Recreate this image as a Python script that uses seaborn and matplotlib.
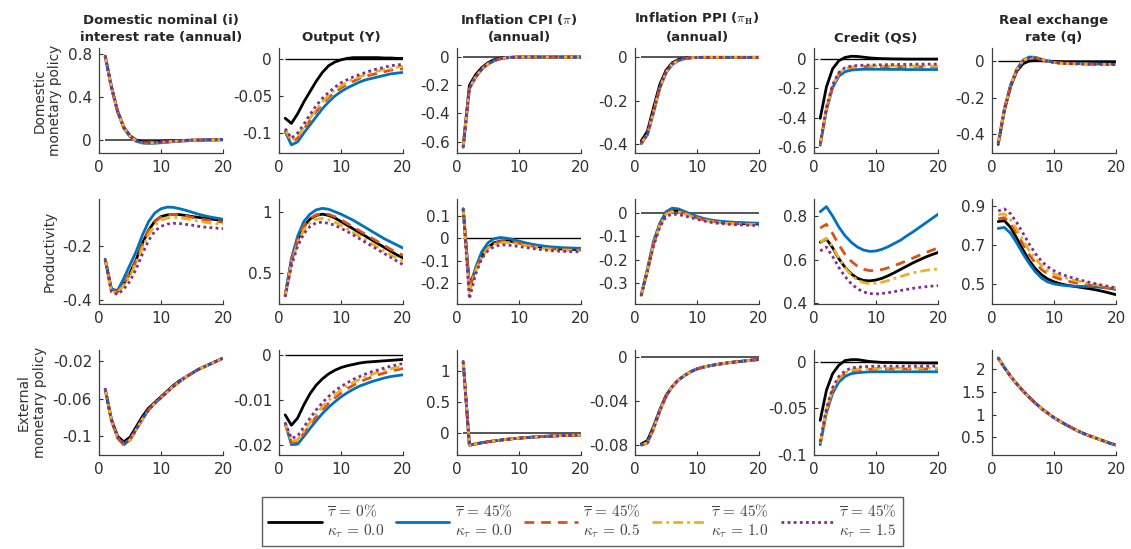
import matplotlib
matplotlib.use('Agg')
import matplotlib.pyplot as plt
import seaborn as sns
from matplotlib.lines import Line2D

# impulse responses, 20 quarters. each panel: [black, blue, orange, yellow, purple]
periods = list(range(1, 21))

# ---- row 1: domestic monetary policy shock
rate_dom = [
    [0.78, 0.50, 0.27, 0.12, 0.04, 0.0, -0.015, -0.018, -0.016, -0.013, -0.01, -0.007, -0.005, -0.003, -0.001, 0.0, 0.001, 0.002, 0.002, 0.003],
    [0.78, 0.49, 0.26, 0.11, 0.03, -0.012, -0.028, -0.032, -0.03, -0.026, -0.021, -0.016, -0.012, -0.008, -0.005, -0.003, -0.001, 0.0, 0.001, 0.002],
    [0.78, 0.49, 0.265, 0.115, 0.033, -0.009, -0.025, -0.028, -0.026, -0.022, -0.017, -0.013, -0.009, -0.006, -0.004, -0.002, 0.0, 0.001, 0.002, 0.002],
    [0.78, 0.49, 0.265, 0.115, 0.035, -0.007, -0.023, -0.026, -0.024, -0.02, -0.016, -0.012, -0.008, -0.005, -0.003, -0.001, 0.0, 0.001, 0.002, 0.003],
    [0.78, 0.49, 0.265, 0.115, 0.036, -0.006, -0.021, -0.024, -0.022, -0.018, -0.014, -0.01, -0.007, -0.004, -0.002, 0.0, 0.001, 0.002, 0.003, 0.003],
]
output_dom = [
    [-0.08, -0.087, -0.074, -0.058, -0.044, -0.03, -0.018, -0.009, -0.004, -0.001, 0.001, 0.002, 0.002, 0.002, 0.002, 0.002, 0.0015, 0.0015, 0.001, 0.001],
    [-0.098, -0.116, -0.112, -0.1, -0.089, -0.078, -0.067, -0.058, -0.05, -0.044, -0.039, -0.035, -0.031, -0.028, -0.026, -0.024, -0.022, -0.02, -0.019, -0.018],
    [-0.096, -0.112, -0.107, -0.095, -0.083, -0.071, -0.061, -0.052, -0.045, -0.039, -0.034, -0.03, -0.026, -0.023, -0.021, -0.019, -0.017, -0.015, -0.014, -0.013],
    [-0.095, -0.11, -0.105, -0.092, -0.08, -0.068, -0.058, -0.049, -0.042, -0.036, -0.031, -0.027, -0.024, -0.021, -0.018, -0.016, -0.014, -0.013, -0.011, -0.01],
    [-0.094, -0.107, -0.1, -0.088, -0.075, -0.063, -0.053, -0.045, -0.038, -0.032, -0.028, -0.024, -0.021, -0.018, -0.015, -0.013, -0.011, -0.009, -0.008, -0.007],
]
cpi_dom = [
    [-0.63, -0.2, -0.125, -0.075, -0.04, -0.018, -0.008, -0.003, -0.001, 0.0, 0.0, 0.0, 0.0, 0.0, 0.0, 0.0, 0.0, 0.0, 0.0, 0.0],
    [-0.64, -0.225, -0.145, -0.088, -0.05, -0.027, -0.013, -0.006, -0.002, -0.001, 0.0, 0.0, 0.0, 0.0, 0.0, 0.0, 0.0, 0.0, 0.0, 0.0],
    [-0.64, -0.222, -0.142, -0.086, -0.049, -0.026, -0.012, -0.005, -0.002, -0.001, 0.0, 0.0, 0.0, 0.0, 0.0, 0.0, 0.0, 0.0, 0.0, 0.0],
    [-0.64, -0.22, -0.14, -0.085, -0.048, -0.025, -0.012, -0.005, -0.002, -0.001, 0.0, 0.0, 0.0, 0.0, 0.0, 0.0, 0.0, 0.0, 0.0, 0.0],
    [-0.64, -0.218, -0.138, -0.084, -0.047, -0.024, -0.011, -0.005, -0.002, -0.001, 0.0, 0.0, 0.0, 0.0, 0.0, 0.0, 0.0, 0.0, 0.0, 0.0],
]
ppi_dom = [
    [-0.385, -0.34, -0.23, -0.125, -0.06, -0.025, -0.01, -0.004, -0.001, 0.0, 0.0, 0.0, 0.0, 0.0, 0.0, 0.0, 0.0, 0.0, 0.0, 0.0],
    [-0.397, -0.357, -0.252, -0.142, -0.071, -0.033, -0.015, -0.006, -0.002, -0.001, 0.0, 0.0, 0.0, 0.0, 0.0, 0.0, 0.0, 0.0, 0.0, 0.0],
    [-0.397, -0.355, -0.25, -0.14, -0.07, -0.032, -0.014, -0.006, -0.002, -0.001, 0.0, 0.0, 0.0, 0.0, 0.0, 0.0, 0.0, 0.0, 0.0, 0.0],
    [-0.396, -0.354, -0.249, -0.139, -0.069, -0.031, -0.014, -0.006, -0.002, -0.001, 0.0, 0.0, 0.0, 0.0, 0.0, 0.0, 0.0, 0.0, 0.0, 0.0],
    [-0.396, -0.352, -0.247, -0.137, -0.068, -0.03, -0.013, -0.005, -0.002, -0.001, 0.0, 0.0, 0.0, 0.0, 0.0, 0.0, 0.0, 0.0, 0.0, 0.0],
]
credit_dom = [
    [-0.405, -0.19, -0.065, -0.01, 0.013, 0.021, 0.02, 0.015, 0.01, 0.007, 0.005, 0.004, 0.003, 0.003, 0.002, 0.002, 0.002, 0.002, 0.002, 0.002],
    [-0.59, -0.35, -0.195, -0.115, -0.085, -0.074, -0.07, -0.068, -0.068, -0.068, -0.068, -0.069, -0.069, -0.069, -0.07, -0.07, -0.07, -0.07, -0.07, -0.07],
    [-0.585, -0.34, -0.185, -0.1, -0.068, -0.056, -0.052, -0.05, -0.05, -0.05, -0.05, -0.05, -0.05, -0.05, -0.05, -0.05, -0.05, -0.05, -0.05, -0.05],
    [-0.583, -0.337, -0.182, -0.097, -0.064, -0.052, -0.048, -0.046, -0.046, -0.046, -0.046, -0.046, -0.046, -0.046, -0.046, -0.046, -0.046, -0.046, -0.046, -0.046],
    [-0.58, -0.33, -0.175, -0.09, -0.058, -0.046, -0.042, -0.04, -0.039, -0.038, -0.037, -0.036, -0.035, -0.035, -0.034, -0.034, -0.033, -0.033, -0.033, -0.033],
]
rer_dom = [
    [-0.455, -0.27, -0.14, -0.055, -0.015, 0.0, 0.003, 0.002, 0.0, -0.002, -0.003, -0.004, -0.004, -0.004, -0.004, -0.004, -0.004, -0.004, -0.004, -0.004],
    [-0.45, -0.26, -0.13, -0.045, 0.005, 0.022, 0.02, 0.01, 0.0, -0.007, -0.01, -0.012, -0.013, -0.014, -0.015, -0.016, -0.016, -0.017, -0.017, -0.018],
    [-0.45, -0.262, -0.132, -0.047, 0.003, 0.019, 0.018, 0.008, -0.001, -0.008, -0.011, -0.013, -0.014, -0.015, -0.016, -0.017, -0.017, -0.018, -0.018, -0.019],
    [-0.45, -0.263, -0.133, -0.048, 0.002, 0.018, 0.017, 0.008, -0.001, -0.008, -0.012, -0.014, -0.015, -0.016, -0.017, -0.018, -0.018, -0.019, -0.019, -0.02],
    [-0.45, -0.265, -0.135, -0.05, 0.0, 0.016, 0.016, 0.007, -0.002, -0.008, -0.012, -0.014, -0.015, -0.016, -0.017, -0.018, -0.018, -0.019, -0.019, -0.02],
]

# ---- row 2: productivity shock
rate_prod = [
    [-0.25, -0.36, -0.37, -0.34, -0.3, -0.25, -0.19, -0.142, -0.108, -0.091, -0.085, -0.083, -0.084, -0.087, -0.091, -0.094, -0.097, -0.1, -0.103, -0.105],
    [-0.25, -0.36, -0.365, -0.32, -0.27, -0.22, -0.16, -0.11, -0.078, -0.062, -0.056, -0.057, -0.062, -0.068, -0.075, -0.082, -0.088, -0.093, -0.097, -0.101],
    [-0.25, -0.365, -0.37, -0.34, -0.3, -0.255, -0.195, -0.145, -0.11, -0.092, -0.085, -0.083, -0.085, -0.089, -0.094, -0.099, -0.103, -0.106, -0.109, -0.112],
    [-0.25, -0.37, -0.375, -0.345, -0.31, -0.264, -0.207, -0.158, -0.123, -0.105, -0.097, -0.094, -0.095, -0.099, -0.103, -0.108, -0.112, -0.115, -0.118, -0.12],
    [-0.25, -0.37, -0.38, -0.36, -0.33, -0.285, -0.23, -0.18, -0.145, -0.127, -0.119, -0.116, -0.117, -0.12, -0.123, -0.127, -0.13, -0.132, -0.134, -0.136],
]
output_prod = [
    [0.32, 0.6, 0.77, 0.88, 0.94, 0.97, 0.98, 0.97, 0.95, 0.92, 0.89, 0.86, 0.83, 0.8, 0.77, 0.74, 0.71, 0.68, 0.65, 0.625],
    [0.32, 0.62, 0.8, 0.92, 0.98, 1.015, 1.027, 1.02, 1.0, 0.98, 0.955, 0.93, 0.9, 0.87, 0.84, 0.81, 0.78, 0.755, 0.73, 0.705],
    [0.32, 0.6, 0.775, 0.885, 0.945, 0.975, 0.985, 0.978, 0.96, 0.935, 0.905, 0.875, 0.845, 0.815, 0.785, 0.755, 0.725, 0.695, 0.67, 0.645],
    [0.315, 0.58, 0.745, 0.85, 0.91, 0.94, 0.945, 0.935, 0.915, 0.89, 0.86, 0.83, 0.8, 0.77, 0.74, 0.71, 0.68, 0.65, 0.625, 0.6],
    [0.31, 0.56, 0.72, 0.82, 0.88, 0.91, 0.915, 0.905, 0.89, 0.865, 0.84, 0.81, 0.78, 0.75, 0.72, 0.69, 0.66, 0.63, 0.6, 0.57],
]
cpi_prod = [
    [0.13, -0.21, -0.14, -0.08, -0.04, -0.02, -0.013, -0.012, -0.015, -0.02, -0.026, -0.032, -0.037, -0.041, -0.044, -0.046, -0.048, -0.049, -0.05, -0.05],
    [0.13, -0.23, -0.13, -0.06, -0.02, -0.002, 0.003, 0.0, -0.006, -0.013, -0.02, -0.026, -0.031, -0.035, -0.038, -0.04, -0.042, -0.043, -0.044, -0.045],
    [0.13, -0.22, -0.14, -0.08, -0.041, -0.021, -0.015, -0.014, -0.017, -0.022, -0.028, -0.034, -0.039, -0.043, -0.046, -0.048, -0.05, -0.051, -0.052, -0.052],
    [0.13, -0.24, -0.145, -0.083, -0.045, -0.026, -0.02, -0.019, -0.021, -0.026, -0.032, -0.037, -0.042, -0.046, -0.049, -0.051, -0.053, -0.054, -0.055, -0.055],
    [0.13, -0.27, -0.16, -0.09, -0.055, -0.037, -0.03, -0.03, -0.033, -0.037, -0.041, -0.045, -0.049, -0.052, -0.055, -0.057, -0.058, -0.059, -0.06, -0.06],
]
ppi_prod = [
    [-0.35, -0.245, -0.13, -0.05, -0.003, 0.01, 0.009, 0.0, -0.01, -0.02, -0.028, -0.034, -0.038, -0.041, -0.043, -0.045, -0.046, -0.047, -0.048, -0.048],
    [-0.35, -0.24, -0.12, -0.045, 0.004, 0.019, 0.016, 0.005, -0.006, -0.016, -0.024, -0.03, -0.034, -0.037, -0.039, -0.041, -0.042, -0.043, -0.044, -0.045],
    [-0.35, -0.245, -0.13, -0.052, -0.005, 0.008, 0.007, -0.002, -0.012, -0.021, -0.029, -0.035, -0.039, -0.042, -0.044, -0.046, -0.047, -0.048, -0.049, -0.049],
    [-0.35, -0.247, -0.133, -0.055, -0.008, 0.004, 0.003, -0.005, -0.015, -0.024, -0.031, -0.037, -0.041, -0.044, -0.046, -0.048, -0.049, -0.05, -0.051, -0.051],
    [-0.352, -0.25, -0.14, -0.062, -0.017, -0.006, -0.008, -0.014, -0.021, -0.028, -0.035, -0.04, -0.044, -0.047, -0.049, -0.051, -0.052, -0.053, -0.054, -0.055],
]
credit_prod = [
    [0.68, 0.695, 0.655, 0.605, 0.565, 0.535, 0.515, 0.505, 0.503, 0.507, 0.515, 0.527, 0.541, 0.556, 0.571, 0.586, 0.599, 0.612, 0.623, 0.633],
    [0.82, 0.843, 0.8, 0.75, 0.71, 0.68, 0.658, 0.644, 0.638, 0.64, 0.648, 0.66, 0.675, 0.69, 0.71, 0.728, 0.748, 0.768, 0.788, 0.808],
    [0.745, 0.762, 0.72, 0.668, 0.625, 0.593, 0.57, 0.556, 0.55, 0.55, 0.555, 0.563, 0.573, 0.584, 0.596, 0.608, 0.62, 0.632, 0.643, 0.654],
    [0.68, 0.698, 0.66, 0.607, 0.563, 0.53, 0.507, 0.495, 0.49, 0.492, 0.497, 0.505, 0.514, 0.523, 0.532, 0.54, 0.546, 0.551, 0.555, 0.557],
    [0.64, 0.658, 0.615, 0.565, 0.523, 0.49, 0.467, 0.452, 0.445, 0.443, 0.445, 0.449, 0.454, 0.459, 0.464, 0.469, 0.473, 0.476, 0.479, 0.481],
]
rer_prod = [
    [0.82, 0.825, 0.79, 0.735, 0.675, 0.62, 0.578, 0.547, 0.525, 0.511, 0.501, 0.494, 0.489, 0.484, 0.479, 0.474, 0.468, 0.461, 0.453, 0.445],
    [0.785, 0.79, 0.76, 0.71, 0.655, 0.605, 0.562, 0.53, 0.51, 0.5, 0.495, 0.491, 0.489, 0.488, 0.487, 0.486, 0.484, 0.481, 0.477, 0.472],
    [0.835, 0.84, 0.81, 0.76, 0.705, 0.65, 0.607, 0.574, 0.551, 0.536, 0.525, 0.516, 0.509, 0.503, 0.498, 0.493, 0.488, 0.483, 0.478, 0.474],
    [0.855, 0.86, 0.83, 0.78, 0.725, 0.672, 0.628, 0.594, 0.569, 0.552, 0.54, 0.53, 0.521, 0.514, 0.507, 0.501, 0.495, 0.489, 0.484, 0.479],
    [0.875, 0.885, 0.86, 0.815, 0.76, 0.705, 0.656, 0.616, 0.588, 0.568, 0.553, 0.541, 0.531, 0.522, 0.514, 0.506, 0.499, 0.492, 0.486, 0.48],
]

# ---- row 3: external monetary policy shock
rate_ext = [
    [-0.05, -0.082, -0.1, -0.106, -0.101, -0.09, -0.079, -0.07, -0.064, -0.058, -0.052, -0.046, -0.041, -0.037, -0.033, -0.029, -0.026, -0.023, -0.02, -0.017],
    [-0.05, -0.083, -0.102, -0.109, -0.104, -0.093, -0.082, -0.072, -0.065, -0.059, -0.053, -0.047, -0.042, -0.037, -0.033, -0.029, -0.026, -0.023, -0.02, -0.017],
    [-0.05, -0.083, -0.102, -0.109, -0.104, -0.093, -0.082, -0.072, -0.065, -0.059, -0.053, -0.047, -0.042, -0.037, -0.033, -0.029, -0.026, -0.023, -0.02, -0.017],
    [-0.05, -0.083, -0.102, -0.108, -0.104, -0.093, -0.082, -0.072, -0.065, -0.059, -0.053, -0.047, -0.042, -0.037, -0.033, -0.029, -0.026, -0.023, -0.02, -0.017],
    [-0.05, -0.083, -0.101, -0.108, -0.103, -0.092, -0.081, -0.072, -0.065, -0.059, -0.053, -0.047, -0.042, -0.037, -0.033, -0.029, -0.026, -0.023, -0.02, -0.017],
]
output_ext = [
    [-0.0133, -0.0156, -0.014, -0.0111, -0.0086, -0.0067, -0.0053, -0.0042, -0.0034, -0.0028, -0.0024, -0.0021, -0.0018, -0.0016, -0.0015, -0.0014, -0.0013, -0.0012, -0.0011, -0.001],
    [-0.0152, -0.0199, -0.0198, -0.0181, -0.0163, -0.0146, -0.013, -0.0116, -0.0104, -0.0093, -0.0084, -0.0076, -0.0069, -0.0064, -0.0059, -0.0055, -0.0051, -0.0048, -0.0046, -0.0044],
    [-0.0152, -0.0195, -0.0192, -0.0174, -0.0155, -0.0137, -0.0121, -0.0107, -0.0095, -0.0084, -0.0075, -0.0067, -0.006, -0.0054, -0.0049, -0.0044, -0.004, -0.0036, -0.0033, -0.003],
    [-0.0151, -0.0192, -0.0188, -0.0169, -0.015, -0.0131, -0.0115, -0.0101, -0.0089, -0.0078, -0.0069, -0.0061, -0.0054, -0.0048, -0.0043, -0.0038, -0.0034, -0.0031, -0.0028, -0.0025],
    [-0.015, -0.0185, -0.018, -0.016, -0.014, -0.0122, -0.0106, -0.0092, -0.008, -0.007, -0.0062, -0.0054, -0.0048, -0.0042, -0.0037, -0.0033, -0.0029, -0.0025, -0.0022, -0.0019],
]
cpi_ext = [
    [1.15, -0.19, -0.17, -0.152, -0.136, -0.122, -0.109, -0.097, -0.087, -0.078, -0.07, -0.062, -0.056, -0.05, -0.045, -0.04, -0.036, -0.033, -0.03, -0.027],
    [1.15, -0.19, -0.17, -0.152, -0.136, -0.122, -0.109, -0.097, -0.087, -0.078, -0.07, -0.062, -0.056, -0.05, -0.045, -0.04, -0.036, -0.033, -0.03, -0.027],
    [1.15, -0.19, -0.17, -0.152, -0.136, -0.122, -0.109, -0.097, -0.087, -0.078, -0.07, -0.062, -0.056, -0.05, -0.045, -0.04, -0.036, -0.033, -0.03, -0.027],
    [1.15, -0.19, -0.17, -0.152, -0.136, -0.122, -0.109, -0.097, -0.087, -0.078, -0.07, -0.062, -0.056, -0.05, -0.045, -0.04, -0.036, -0.033, -0.03, -0.027],
    [1.15, -0.19, -0.17, -0.152, -0.136, -0.122, -0.109, -0.097, -0.087, -0.078, -0.07, -0.062, -0.056, -0.05, -0.045, -0.04, -0.036, -0.033, -0.03, -0.027],
]
ppi_ext = [
    [-0.079, -0.076, -0.063, -0.048, -0.035, -0.027, -0.021, -0.017, -0.0135, -0.011, -0.0095, -0.0082, -0.0072, -0.0063, -0.0055, -0.0048, -0.0042, -0.0036, -0.003, -0.0025],
    [-0.08, -0.078, -0.065, -0.049, -0.036, -0.027, -0.021, -0.017, -0.0135, -0.011, -0.0095, -0.0082, -0.0072, -0.0063, -0.0055, -0.0048, -0.0042, -0.0036, -0.003, -0.0025],
    [-0.08, -0.078, -0.065, -0.049, -0.036, -0.027, -0.021, -0.017, -0.0135, -0.011, -0.0095, -0.0082, -0.0072, -0.0063, -0.0055, -0.0048, -0.0042, -0.0036, -0.003, -0.0025],
    [-0.08, -0.078, -0.065, -0.049, -0.036, -0.027, -0.021, -0.017, -0.0135, -0.011, -0.0095, -0.0082, -0.0072, -0.0063, -0.0055, -0.0048, -0.0042, -0.0036, -0.003, -0.0025],
    [-0.08, -0.078, -0.065, -0.049, -0.036, -0.027, -0.021, -0.017, -0.0135, -0.011, -0.0095, -0.0082, -0.0072, -0.0063, -0.0055, -0.0048, -0.0042, -0.0036, -0.003, -0.0025],
]
credit_ext = [
    [-0.063, -0.031, -0.013, -0.004, 0.001, 0.002, 0.002, 0.001, 0.0, -0.0005, -0.001, -0.001, -0.0012, -0.0013, -0.0014, -0.0015, -0.0015, -0.0016, -0.0016, -0.0016],
    [-0.089, -0.055, -0.034, -0.022, -0.016, -0.013, -0.012, -0.0115, -0.011, -0.011, -0.011, -0.011, -0.011, -0.011, -0.011, -0.011, -0.011, -0.011, -0.011, -0.011],
    [-0.088, -0.053, -0.031, -0.019, -0.013, -0.01, -0.009, -0.0085, -0.0083, -0.0082, -0.0081, -0.008, -0.008, -0.008, -0.008, -0.008, -0.008, -0.008, -0.008, -0.008],
    [-0.087, -0.052, -0.03, -0.018, -0.012, -0.009, -0.008, -0.0075, -0.0073, -0.0072, -0.0071, -0.007, -0.007, -0.007, -0.007, -0.007, -0.007, -0.007, -0.007, -0.007],
    [-0.086, -0.05, -0.028, -0.016, -0.01, -0.007, -0.006, -0.0055, -0.0052, -0.005, -0.005, -0.005, -0.005, -0.005, -0.005, -0.005, -0.005, -0.005, -0.005, -0.005],
]
rer_ext = [
    [2.24, 2.03, 1.84, 1.67, 1.52, 1.38, 1.25, 1.13, 1.03, 0.93, 0.85, 0.77, 0.7, 0.63, 0.57, 0.52, 0.47, 0.42, 0.37, 0.33],
    [2.24, 2.03, 1.84, 1.67, 1.52, 1.38, 1.25, 1.13, 1.03, 0.93, 0.85, 0.77, 0.7, 0.63, 0.57, 0.52, 0.47, 0.42, 0.37, 0.33],
    [2.24, 2.03, 1.84, 1.67, 1.52, 1.38, 1.25, 1.13, 1.03, 0.93, 0.85, 0.77, 0.7, 0.63, 0.57, 0.52, 0.47, 0.42, 0.37, 0.33],
    [2.24, 2.03, 1.84, 1.67, 1.52, 1.38, 1.25, 1.13, 1.03, 0.93, 0.85, 0.77, 0.7, 0.63, 0.57, 0.52, 0.47, 0.42, 0.37, 0.33],
    [2.24, 2.03, 1.84, 1.67, 1.52, 1.38, 1.25, 1.13, 1.03, 0.93, 0.85, 0.77, 0.7, 0.63, 0.57, 0.52, 0.47, 0.42, 0.37, 0.33],
]

col_titles = ['Domestic nominal (i)\ninterest rate (annual)', 'Output (Y)',
              'Inflation CPI ($\\pi$)\n(annual)', 'Inflation PPI ($\\pi_{\\mathbf{H}}$)\n(annual)',
              'Credit (QS)', 'Real exchange\nrate (q)']
row_labels = ['Domestic\nmonetary policy', 'Productivity', 'External\nmonetary policy']
series_labels = ['$\\overline{\\tau}\\,=\\,0\\%$\n$\\kappa_{\\tau}\\,=\\,0.0$',
                 '$\\overline{\\tau}\\,=\\,45\\%$\n$\\kappa_{\\tau}\\,=\\,0.0$',
                 '$\\overline{\\tau}\\,=\\,45\\%$\n$\\kappa_{\\tau}\\,=\\,0.5$',
                 '$\\overline{\\tau}\\,=\\,45\\%$\n$\\kappa_{\\tau}\\,=\\,1.0$',
                 '$\\overline{\\tau}\\,=\\,45\\%$\n$\\kappa_{\\tau}\\,=\\,1.5$']

grid = [[rate_dom, output_dom, cpi_dom, ppi_dom, credit_dom, rer_dom],
        [rate_prod, output_prod, cpi_prod, ppi_prod, credit_prod, rer_prod],
        [rate_ext, output_ext, cpi_ext, ppi_ext, credit_ext, rer_ext]]

ylims = [[(-0.121, 0.856), (-0.127, 0.015), (-0.68, 0.064), (-0.44, 0.043), (-0.643, 0.078), (-0.502, 0.071)],
         [(-0.415, -0.026), (0.251, 1.103), (-0.292, 0.174), (-0.388, 0.058), (0.397, 0.878), (0.397, 0.936)],
         [(-0.12, -0.0083), (-0.0222, 0.0011), (-0.348, 1.337), (-0.089, 0.0061), (-0.098, 0.0123), (0.111, 2.417)]]
yticks = [[[0, 0.4, 0.8], [-0.1, -0.05, 0], [-0.6, -0.4, -0.2, 0], [-0.4, -0.2, 0], [-0.6, -0.4, -0.2, 0], [-0.4, -0.2, 0]],
          [[-0.4, -0.2], [0.5, 1], [-0.2, -0.1, 0, 0.1], [-0.3, -0.2, -0.1, 0], [0.4, 0.6, 0.8], [0.5, 0.7, 0.9]],
          [[-0.1, -0.06, -0.02], [-0.02, -0.01, 0], [0, 0.5, 1], [-0.08, -0.04, 0], [-0.1, -0.05, 0], [0.5, 1, 1.5, 2]]]
# zero reference line: None, black or grey
zero_lines = [['grey', 'k', 'grey', 'grey', 'k', 'k'],
              [None, None, 'k', 'grey', None, None],
              [None, 'k', 'grey', 'grey', 'k', None]]

colors = ['black', '#0072BD', '#D95319', '#EDB120', '#7E2F8E']
styles = ['-', '-', (0, (3.5, 2.5)), (0, (3.5, 1.5, 1, 1.5)), (0, (1, 1.2))]

sns.set_style('ticks')
plt.rcParams['font.family'] = ['DejaVu Sans']
plt.rcParams['mathtext.fontset'] = 'cm'
plt.rcParams['axes.unicode_minus'] = False
plt.rcParams['xtick.direction'] = 'in'
plt.rcParams['ytick.direction'] = 'in'

W, H = 1131, 549
fig = plt.figure(figsize=(W / 100, H / 100), dpi=100)

col_left = [99, 279, 457, 635, 814, 992]
row_top = [48, 199, 350]
ax_w, ax_h = 124, 105

for r in range(3):
    for c in range(6):
        ax = fig.add_axes([col_left[c] / W, (H - row_top[r] - ax_h) / H, ax_w / W, ax_h / H])
        zc = zero_lines[r][c]
        if zc == 'k':
            ax.hlines(0, periods[0], periods[-1], color='black', lw=1.0, zorder=1)
        elif zc == 'grey':
            ax.hlines(0, periods[0], periods[-1], color='#555555', lw=1.4, zorder=1)
        for s in range(5):
            sns.lineplot(x=periods, y=grid[r][c][s], ax=ax, color=colors[s],
                         linestyle=styles[s], lw=2.0, zorder=2 + s)
        ax.set_xlim(0, 20)
        ax.set_ylim(*ylims[r][c])
        ax.set_xticks([0, 10, 20])
        ax.set_xticklabels(['0', '10', '20'])
        ax.set_yticks(yticks[r][c])
        ax.set_yticklabels([f'{t:g}' for t in yticks[r][c]])
        ax.tick_params(labelsize=11, colors='#303030', length=3, width=0.8, pad=5)
        for sp in ['left', 'bottom']:
            ax.spines[sp].set_color('#404040')
            ax.spines[sp].set_linewidth(0.9)
        sns.despine(ax=ax)
        if r == 0:
            ax.set_title(col_titles[c], fontsize=9.5, fontweight='bold', pad=5, linespacing=1.45)
        if c == 0:
            ax.set_ylabel(row_labels[r], fontsize=9.8, color='#303030', labelpad=4)

handles = [Line2D([], [], color=colors[s], linestyle=styles[s], lw=2.0) for s in range(5)]
leg = fig.legend(handles, series_labels, loc='lower left',
                 bbox_to_anchor=(262 / W, 3 / H, 641 / W, 43 / H), mode='expand',
                 ncol=5, frameon=True, fancybox=False, edgecolor='#333333',
                 handlelength=3.5, handletextpad=0.35, columnspacing=0.8,
                 fontsize=11, labelcolor='#444444', borderaxespad=0)
leg.get_frame().set_linewidth(1.0)

fig.savefig('out.png', dpi=100)
